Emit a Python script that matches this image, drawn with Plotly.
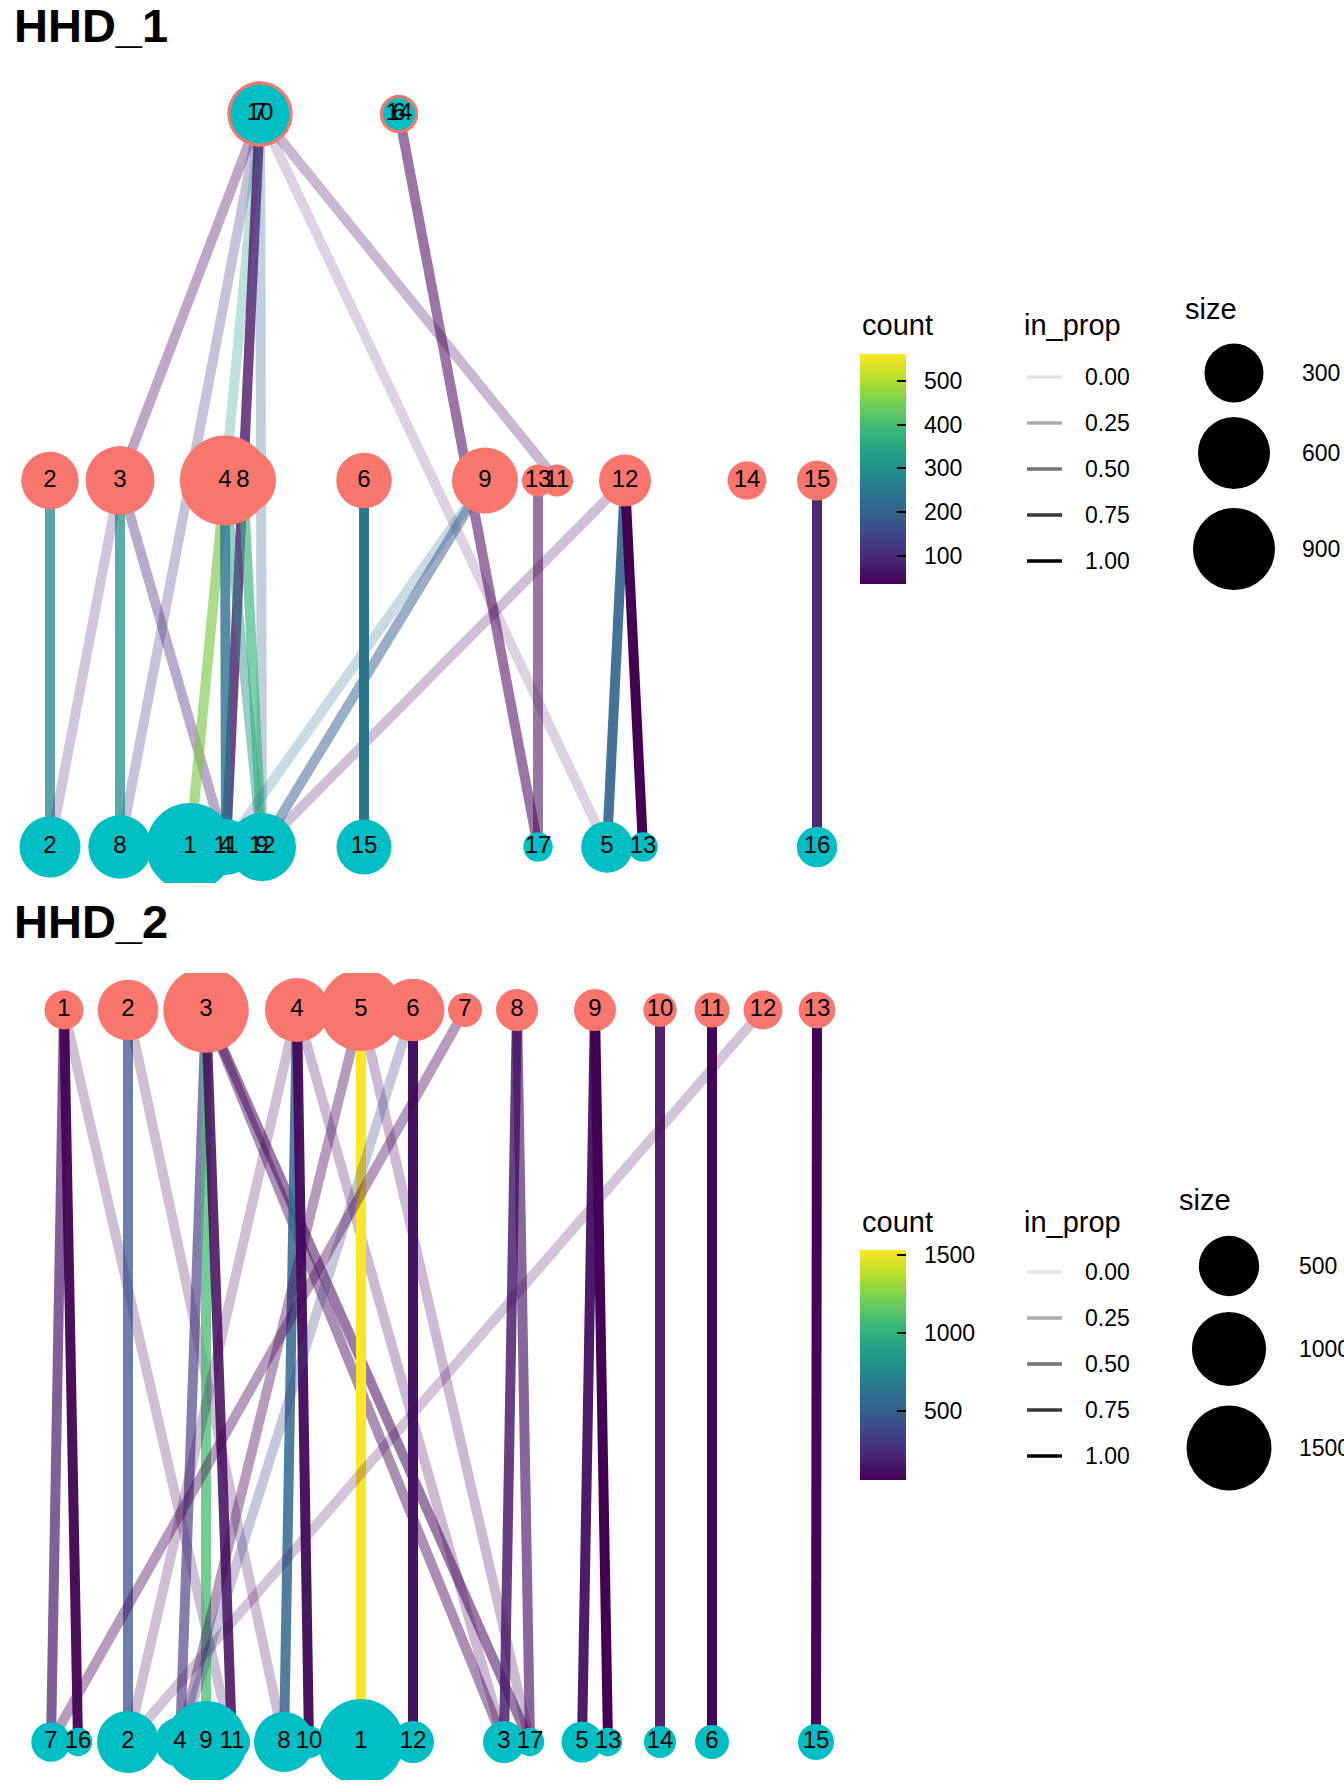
import math
import plotly.graph_objects as go
from plotly.colors import sample_colorscale, unlabel_rgb

W, H = 1344, 1792
SALMON = "#F8766D"
TEAL = "#00BFC4"
FONT = "Liberation Sans, Arial, Helvetica, sans-serif"

# ---------------- HHD_1 data ----------------
# rows: T = top, M = middle (red level), B = bottom (teal level)
P1_TOP_LABELS = ["10", "7", "14", "6"]
P1_TOP_X = [260, 260, 399, 399]
P1_TOP_SIZE = [360, 360, 17, 17]

P1_MID_LABELS = ["2", "3", "4", "8", "6", "9", "13", "11", "12", "14", "15"]
P1_MID_X = [50, 120, 225, 243, 364, 485, 538, 557, 625, 747, 817]
P1_MID_SIZE = [270, 521, 1183, 448, 238, 448, 6, 6, 181, 37, 47]

P1_BOT_LABELS = ["2", "8", "1", "4", "11", "9", "12", "15", "17", "5", "13", "16"]
P1_BOT_X = [50, 120, 190, 226, 226, 262, 262, 364, 538, 607, 643, 817]
P1_BOT_SIZE = [339, 389, 1108, 245, 47, 496, 82, 228, 1, 175, 1, 51]

P1_EDGE_FROM = ["T:10", "T:10", "T:10", "T:10", "T:10", "T:7", "T:7", "T:14",
                "M:2", "M:3", "M:3", "M:3", "M:4", "M:4", "M:4", "M:8",
                "M:9", "M:9", "M:12", "M:12", "M:12", "M:13", "M:6", "M:15"]
P1_EDGE_TO = ["M:3", "B:8", "B:1", "B:4", "B:9", "M:11", "B:5", "B:17",
              "B:2", "B:8", "B:2", "B:4", "B:1", "B:4", "B:9", "B:9",
              "B:4", "B:9", "B:9", "B:5", "B:13", "B:17", "B:15", "B:16"]
P1_EDGE_COUNT = [45, 115, 325, 60, 190, 60, 60, 40,
                 272, 300, 90, 100, 480, 235, 300, 380,
                 220, 190, 45, 205, 36, 40, 246, 80]
P1_EDGE_INPROP = [0.28, 0.22, 0.22, 0.75, 0.22, 0.22, 0.10, 0.50,
                  0.72, 0.72, 0.17, 0.33, 0.48, 0.78, 0.40, 0.60,
                  0.17, 0.45, 0.17, 0.90, 1.00, 0.50, 1.00, 0.95]
P1_COUNT_LIMITS = (36, 561)
P1_COUNT_TICKS = [100, 200, 300, 400, 500]
P1_SIZE_BREAKS = [300, 600, 900]

# ---------------- HHD_2 data ----------------
P2_TOP_LABELS = ["1", "2", "3", "4", "5", "6", "7", "8", "9", "10", "11", "12", "13"]
P2_TOP_X = [64, 128, 206, 297, 361, 413, 465, 517, 595, 660, 712, 763, 817]
P2_TOP_SIZE = [66, 508, 1526, 615, 1354, 570, 23, 103, 103, 19, 30, 66, 43]

P2_BOT_LABELS = ["7", "16", "2", "4", "9", "11", "8", "10", "1", "12", "3", "17",
                 "5", "13", "14", "6", "15"]
P2_BOT_X = [51, 78, 128, 180, 206, 232, 284, 309, 361, 413, 504, 530,
            582, 608, 660, 712, 816]
P2_BOT_SIZE = [71, 1, 551, 240, 1354, 40, 490, 12, 1558, 103, 103, 1,
               90, 1, 12, 23, 38]

P2_EDGE_FROM = ["1", "1", "1", "2", "2", "3", "3", "3", "3", "3", "4", "4", "4", "4",
                "5", "5", "5", "6", "6", "7", "8", "8", "9", "9", "10", "11", "12", "13"]
P2_EDGE_TO = ["7", "16", "11", "2", "8", "4", "9", "11", "3", "17", "8", "10", "2", "3",
              "1", "4", "17", "12", "4", "7", "3", "17", "5", "13", "14", "6", "2", "15"]
P2_EDGE_COUNT = [150, 70, 70, 426, 70, 280, 1090, 100, 100, 100, 544, 90, 70, 80,
                 1532, 70, 80, 130, 350, 70, 150, 120, 120, 60, 100, 70, 70, 70]
P2_EDGE_INPROP = [0.65, 0.95, 0.17, 0.72, 0.17, 0.60, 0.72, 0.85, 0.40, 0.50, 0.83, 0.95, 0.17, 0.20,
                  1.00, 0.33, 0.20, 1.00, 0.22, 0.33, 0.80, 0.60, 0.95, 1.00, 0.90, 1.00, 0.15, 1.00]
P2_COUNT_LIMITS = (58, 1532)
P2_COUNT_TICKS = [500, 1000, 1500]
P2_SIZE_BREAKS = [500, 1000, 1500]

INPROP_BREAKS = [0.00, 0.25, 0.50, 0.75, 1.00]


# ---------------- helpers ----------------
def px(x):
    return x / W


def py(y):
    return 1 - y / H


def edge_color(count, inprop, lims):
    t = (count - lims[0]) / (lims[1] - lims[0])
    t = min(max(t, 0.0), 1.0)
    r, g, b = unlabel_rgb(sample_colorscale("Viridis", [t])[0])
    a = 0.1 + 0.9 * inprop
    return f"rgba({r:.0f},{g:.0f},{b:.0f},{a:.3f})"


def radius(size, c0, c1):
    return c0 + c1 * math.sqrt(size)


fig = go.Figure()


def draw_panel(xa, ya, rows, edges, lims, c0, c1):
    pos = {}
    for key, yv, labels, xs, sizes, fill, outline in rows:
        for lab, x in zip(labels, xs):
            pos[f"{key}:{lab}"] = (x, yv)
    ef, et, ec, ei = edges
    for f, t, c, ip in zip(ef, et, ec, ei):
        x0, y0 = pos[f]
        x1, y1 = pos[t]
        fig.add_trace(go.Scatter(x=[x0, x1], y=[y0, y1], mode="lines",
                                 line=dict(color=edge_color(c, ip, lims), width=10),
                                 xaxis=xa, yaxis=ya, hoverinfo="skip", showlegend=False))
    for key, yv, labels, xs, sizes, fill, outline in rows:
        d = [2 * radius(s, c0, c1) for s in sizes]
        fig.add_trace(go.Scatter(
            x=xs, y=[yv] * len(xs), mode="markers",
            marker=dict(size=d, color=fill, opacity=1,
                        line=dict(color=outline if outline else fill, width=3 if outline else 0)),
            xaxis=xa, yaxis=ya, hoverinfo="skip", showlegend=False))
    for key, yv, labels, xs, sizes, fill, outline in rows:
        fig.add_trace(go.Scatter(
            x=xs, y=[yv] * len(xs), mode="text", text=labels,
            textposition="middle center",
            textfont=dict(family=FONT, size=24, color="black"),
            xaxis=xa, yaxis=ya, hoverinfo="skip", showlegend=False))


P1C0, P1C1 = 13.8, 0.907
P2C0, P2C1 = 13.4, 0.75

draw_panel("x", "y",
           [("M", 1, P1_MID_LABELS, P1_MID_X, P1_MID_SIZE, SALMON, None),
            ("T", 0, P1_TOP_LABELS, P1_TOP_X, P1_TOP_SIZE, TEAL, SALMON),
            ("B", 2, P1_BOT_LABELS, P1_BOT_X, P1_BOT_SIZE, TEAL, None)],
           (P1_EDGE_FROM, P1_EDGE_TO, P1_EDGE_COUNT, P1_EDGE_INPROP),
           P1_COUNT_LIMITS, P1C0, P1C1)

draw_panel("x2", "y2",
           [("T", 0, P2_TOP_LABELS, P2_TOP_X, P2_TOP_SIZE, SALMON, None),
            ("B", 1, P2_BOT_LABELS, P2_BOT_X, P2_BOT_SIZE, TEAL, None)],
           (["T:" + s for s in P2_EDGE_FROM], ["B:" + s for s in P2_EDGE_TO],
            P2_EDGE_COUNT, P2_EDGE_INPROP),
           P2_COUNT_LIMITS, P2C0, P2C1)

# dummy traces carrying the colour scales
for ca, lims in (("coloraxis", P1_COUNT_LIMITS), ("coloraxis2", P2_COUNT_LIMITS)):
    fig.add_trace(go.Scatter(x=[None, None], y=[None, None], mode="markers",
                             marker=dict(color=list(lims), coloraxis=ca, size=1),
                             hoverinfo="skip", showlegend=False))

shapes = []
annotations = []


def legend_block(top, bar_top, bar_bot, ticks, lims, ca_name, inprop_y0, size_title_y,
                 size_breaks, size_cx, size_cy, size_lbl_x, c0, c1, size_title_x):
    fig.layout[ca_name] = dict(
        colorscale="Viridis", cmin=lims[0], cmax=lims[1],
        colorbar=dict(x=px(860), xanchor="left", y=py(bar_bot), yanchor="bottom",
                      len=bar_bot - bar_top, lenmode="pixels", thickness=46,
                      thicknessmode="pixels", xpad=0, ypad=0, outlinewidth=0,
                      tickvals=ticks, ticks="inside", ticklen=9, tickwidth=2,
                      tickcolor="black", showticklabels=False))
    annotations.append(dict(text="count", x=px(860), y=py(top), xanchor="left", yanchor="middle",
                            font=dict(family=FONT, size=29, color="black")))
    for v in ticks:
        ty = bar_bot - (v - lims[0]) / (lims[1] - lims[0]) * (bar_bot - bar_top)
        shapes.append(dict(type="line", xref="paper", yref="paper", x0=px(860), x1=px(869),
                           y0=py(ty), y1=py(ty), line=dict(color="black", width=2)))
        annotations.append(dict(text=str(v), x=px(922), y=py(ty), xanchor="left", yanchor="middle",
                                font=dict(family=FONT, size=23, color="black")))
    annotations.append(dict(text="in_prop", x=px(1022), y=py(top), xanchor="left", yanchor="middle",
                            font=dict(family=FONT, size=29, color="black")))
    for i, v in enumerate(INPROP_BREAKS):
        ly = inprop_y0 + i * 46
        g = 255 * (1 - (0.1 + 0.9 * v))
        shapes.append(dict(type="line", xref="paper", yref="paper", x0=px(1027), x1=px(1062),
                           y0=py(ly), y1=py(ly), line=dict(color=f"rgb({g:.0f},{g:.0f},{g:.0f})", width=3.3)))
        annotations.append(dict(text=f"{v:.2f}", x=px(1083), y=py(ly), xanchor="left", yanchor="middle",
                                font=dict(family=FONT, size=23, color="black")))
    annotations.append(dict(text="size", x=px(size_title_x), y=py(size_title_y), xanchor="left",
                            yanchor="middle", font=dict(family=FONT, size=29, color="black")))
    for v, cy in zip(size_breaks, size_cy):
        r = radius(v, c0, c1)
        shapes.append(dict(type="circle", xref="paper", yref="paper",
                           x0=px(size_cx - r), x1=px(size_cx + r), y0=py(cy + r), y1=py(cy - r),
                           fillcolor="black", line=dict(width=0)))
        annotations.append(dict(text=str(v), x=px(size_lbl_x), y=py(cy), xanchor="left", yanchor="middle",
                                font=dict(family=FONT, size=23, color="black")))


legend_block(325, 354, 584, P1_COUNT_TICKS, P1_COUNT_LIMITS, "coloraxis", 377, 309,
             P1_SIZE_BREAKS, 1234, [373, 453, 549], 1300, P1C0, P1C1, 1183)
legend_block(1222, 1250, 1480, P2_COUNT_TICKS, P2_COUNT_LIMITS, "coloraxis2", 1272, 1200,
             P2_SIZE_BREAKS, 1229, [1266, 1349, 1448], 1297, P2C0, P2C1, 1177)

annotations.append(dict(text="<b>HHD_1</b>", x=px(12), y=py(25), xanchor="left", yanchor="middle",
                        font=dict(family=FONT, size=47, color="black")))
annotations.append(dict(text="<b>HHD_2</b>", x=px(12), y=py(921), xanchor="left", yanchor="middle",
                        font=dict(family=FONT, size=47, color="black")))
for a in annotations:
    a.update(xref="paper", yref="paper", showarrow=False)

noax = dict(visible=False, showgrid=False, zeroline=False, fixedrange=True)
fig.update_layout(
    width=W, height=H, margin=dict(l=0, r=0, t=0, b=0),
    paper_bgcolor="white", plot_bgcolor="white", showlegend=False,
    xaxis=dict(domain=[0, px(860)], range=[0, 860], anchor="y", **noax),
    yaxis=dict(domain=[py(883), py(45)], range=[2 + 36 / 366.5, -69 / 366.5], anchor="x", **noax),
    xaxis2=dict(domain=[0, px(860)], range=[0, 860], anchor="y2", **noax),
    yaxis2=dict(domain=[py(1780), py(973)], range=[1 + 38 / 732, -37 / 732], anchor="x2", **noax),
    shapes=shapes, annotations=annotations,
)

fig.write_html("out.html", config={"displayModeBar": False, "staticPlot": True},
               post_script="document.body.style.margin='0';document.body.style.overflow='hidden';")
